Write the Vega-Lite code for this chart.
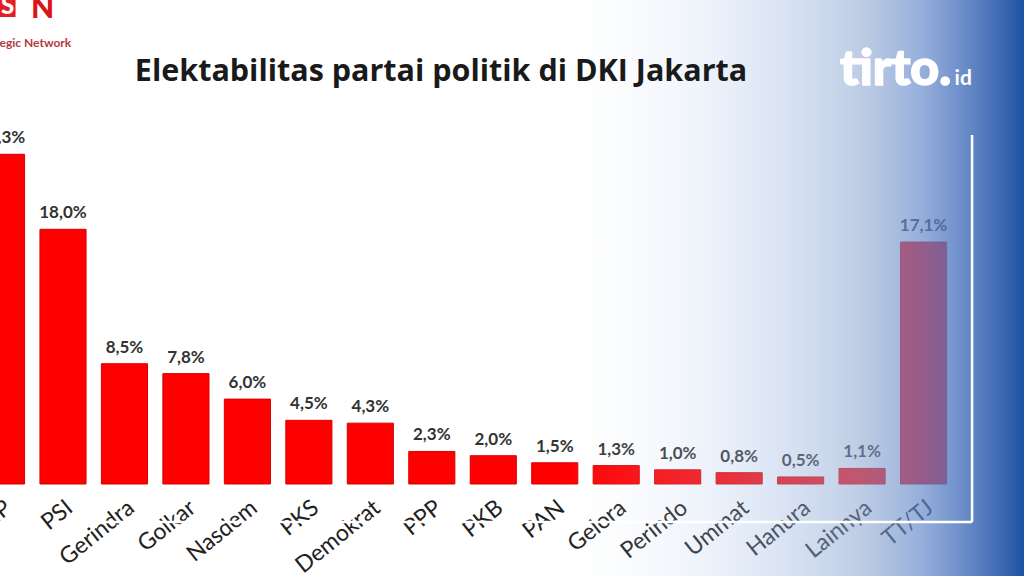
{
  "$schema": "https://vega.github.io/schema/vega-lite/v6.json",
  "width": 1024,
  "height": 576,
  "autosize": {"type": "none"},
  "padding": 0,
  "background": "#ffffff",
  "config": {
    "view": {"stroke": null},
    "font": "Lato"
  },
  "title": {
    "text": "Elektabilitas partai politik di DKI Jakarta",
    "font": "Open Sans",
    "fontSize": 30.5,
    "fontWeight": "bold",
    "color": "#1a1a1a",
    "anchor": "middle",
    "frame": "group",
    "dx": -71,
    "offset": -118,
    "baseline": "alphabetic"
  },
  "datasets": {
    "parties": [
      {"partai": "PDIP", "nilai": 23.3, "label": "23,3%"},
      {"partai": "PSI", "nilai": 18.0, "label": "18,0%"},
      {"partai": "Gerindra", "nilai": 8.5, "label": "8,5%"},
      {"partai": "Golkar", "nilai": 7.8, "label": "7,8%"},
      {"partai": "Nasdem", "nilai": 6.0, "label": "6,0%"},
      {"partai": "PKS", "nilai": 4.5, "label": "4,5%"},
      {"partai": "Demokrat", "nilai": 4.3, "label": "4,3%"},
      {"partai": "PPP", "nilai": 2.3, "label": "2,3%"},
      {"partai": "PKB", "nilai": 2.0, "label": "2,0%"},
      {"partai": "PAN", "nilai": 1.5, "label": "1,5%"},
      {"partai": "Gelora", "nilai": 1.3, "label": "1,3%"},
      {"partai": "Perindo", "nilai": 1.0, "label": "1,0%"},
      {"partai": "Ummat", "nilai": 0.8, "label": "0,8%"},
      {"partai": "Hanura", "nilai": 0.5, "label": "0,5%"},
      {"partai": "Lainnya", "nilai": 1.1, "label": "1,1%"},
      {"partai": "TT/TJ", "nilai": 17.1, "label": "17,1%"}
    ]
  },
  "layer": [
    {
      "data": {"name": "parties"},
      "mark": {"type": "bar", "color": "#fe0000", "stroke": "#d80000", "strokeWidth": 1},
      "encoding": {
        "x": {
          "field": "partai",
          "type": "nominal",
          "sort": null,
          "scale": {"range": [-29.2, 954.3], "paddingInner": 0.25, "paddingOuter": 0.125},
          "axis": {
            "title": null,
            "orient": "bottom",
            "offset": -92,
            "domain": false,
            "ticks": false,
            "labelAngle": -39,
            "labelFont": "Lato",
            "labelFontSize": 23,
            "labelColor": "#222222",
            "labelPadding": 12,
            "labelOverlap": false,
            "labelBound": false,
            "labelFlush": false
          }
        },
        "y": {
          "field": "nilai",
          "type": "quantitative",
          "scale": {"domain": [-6.502, 34.205], "nice": false, "zero": false},
          "axis": null
        },
        "y2": {"datum": 0}
      }
    },
    {
      "data": {"name": "parties"},
      "mark": {"type": "text", "font": "Lato", "fontSize": 17, "fontWeight": "bold", "color": "#333333", "baseline": "alphabetic", "dy": -11},
      "encoding": {
        "x": {"field": "partai", "type": "nominal", "sort": null},
        "y": {"field": "nilai", "type": "quantitative"},
        "text": {"field": "label"}
      }
    },
    {
      "data": {"values": [{"t": "logo"}]},
      "mark": {"type": "rect", "color": "#e31e24", "xOffset": -30, "x2Offset": 14},
      "encoding": {
        "x": {"datum": "PDIP"},
        "x2": {"datum": "PDIP"},
        "y": {"datum": 34.205},
        "y2": {"datum": 33.0}
      }
    },
    {
      "data": {"values": [{"t": "S"}]},
      "mark": {"type": "text", "font": "Lato", "fontSize": 24, "fontWeight": 900, "color": "#ffffff", "align": "center", "baseline": "middle", "dx": 6},
      "encoding": {
        "x": {"datum": "PDIP"},
        "y": {"datum": 33.7},
        "text": {"field": "t"}
      }
    },
    {
      "data": {"values": [{"t": "N"}]},
      "mark": {"type": "text", "font": "Lato", "fontSize": 30, "fontWeight": 900, "color": "#d9141b", "align": "center", "baseline": "middle", "dx": 41},
      "encoding": {
        "x": {"datum": "PDIP"},
        "y": {"datum": 33.6},
        "text": {"field": "t"}
      }
    },
    {
      "data": {"values": [{"t": "egic Network"}]},
      "mark": {"type": "text", "font": "Lato", "fontSize": 12, "fontWeight": "bold", "color": "#b5393d", "align": "left", "baseline": "middle", "dx": -2},
      "encoding": {
        "x": {"datum": "PDIP"},
        "y": {"datum": 31.2},
        "text": {"field": "t"}
      }
    },
    {
      "data": {"values": [{"t": "overlay"}]},
      "mark": {
        "type": "rect",
        "fill": {
          "gradient": "linear",
          "x1": 0, "y1": 0, "x2": 1, "y2": 0,
          "stops": [
            {"offset": 0, "color": "rgba(255,255,255,0)"},
            {"offset": 0.55, "color": "rgba(225,233,246,0)"},
            {"offset": 0.63, "color": "rgba(195,212,238,0.12)"},
            {"offset": 0.72, "color": "rgba(165,190,232,0.27)"},
            {"offset": 0.84, "color": "rgba(135,163,207,0.54)"},
            {"offset": 0.9, "color": "rgba(100,136,203,0.68)"},
            {"offset": 0.95, "color": "rgba(70,112,185,0.86)"},
            {"offset": 1, "color": "rgba(28,82,160,1)"}
          ]
        }
      },
      "encoding": {}
    },
    {
      "data": {"values": [{"t": "frame"}]},
      "mark": {"type": "rule", "color": "#ffffff", "strokeWidth": 2.5, "xOffset": 48.5},
      "encoding": {
        "x": {"datum": "TT/TJ"},
        "y": {"datum": 24.66},
        "y2": {"datum": -2.686}
      }
    },
    {
      "data": {"values": [{"t": "frame"}]},
      "mark": {"type": "rule", "color": "#ffffff", "strokeWidth": 2.5, "x2Offset": 48.5},
      "encoding": {
        "x": {"datum": "PSI"},
        "x2": {"datum": "TT/TJ"},
        "y": {"datum": -2.686}
      }
    },
    {
      "data": {"values": [{"t": "tirto."}]},
      "mark": {"type": "text", "font": "Lato", "fontSize": 50, "fontWeight": 900, "color": "#ffffff", "align": "left", "baseline": "alphabetic", "dx": -22, "stroke": "#ffffff", "strokeWidth": 1.5},
      "encoding": {
        "x": {"datum": "Lainnya"},
        "y": {"datum": 28.2},
        "text": {"field": "t"}
      }
    },
    {
      "data": {"values": [{"t": "id"}]},
      "mark": {"type": "text", "font": "Lato", "fontSize": 21, "fontWeight": "bold", "color": "#ffffff", "align": "left", "baseline": "alphabetic", "dx": 31},
      "encoding": {
        "x": {"datum": "TT/TJ"},
        "y": {"datum": 28.2},
        "text": {"field": "t"}
      }
    }
  ]
}
